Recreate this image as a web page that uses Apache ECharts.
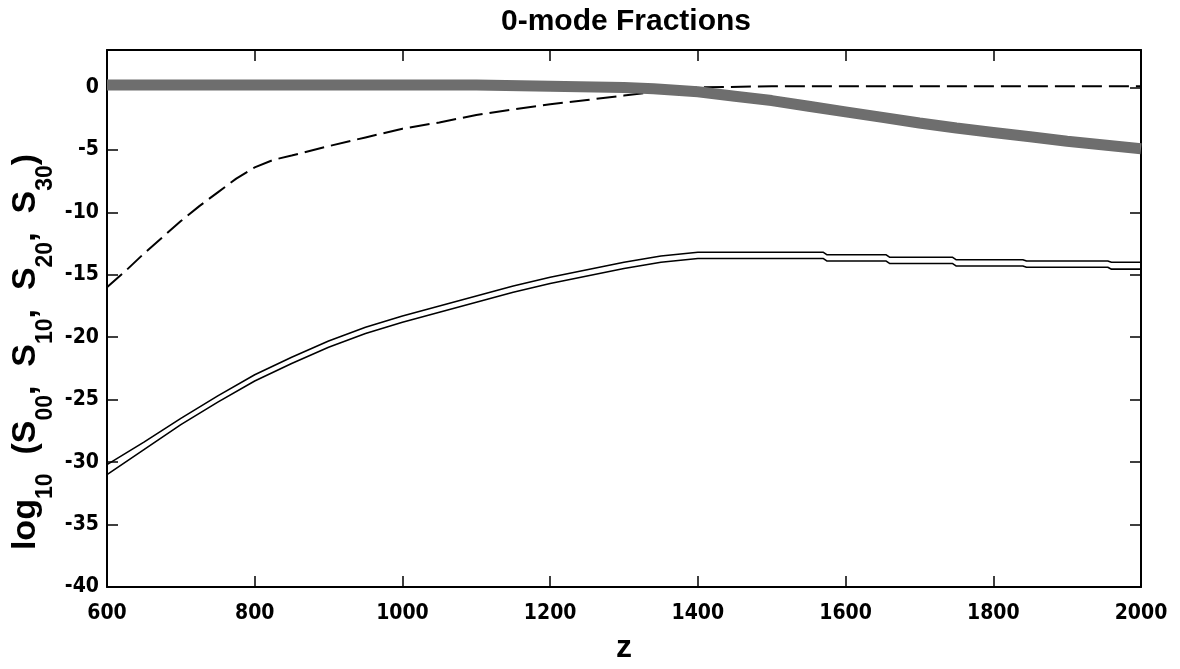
<!DOCTYPE html>
<html>
<head>
<meta charset="utf-8">
<script src="https://cdn.jsdelivr.net/npm/echarts@6/dist/echarts.min.js"></script>
<style>
html,body{margin:0;padding:0;background:#fff;}
#chart{width:1180px;height:669px;}
</style>
</head>
<body>
<div id="chart"></div>
<script>
// ---- data ----
const titleText = '0-mode Fractions';
const xName = 'z';

// thick grey band
const zBand    = [600, 700, 800, 900, 1000, 1100, 1200, 1300, 1340, 1400, 1450, 1500, 1550, 1600, 1650, 1700, 1750, 1800, 1850, 1900, 1950, 2000];
const bandVals = [0.2, 0.2, 0.2, 0.2, 0.2, 0.2, 0.1, 0.0, -0.1, -0.35, -0.7, -1.05, -1.5, -1.95, -2.4, -2.85, -3.25, -3.6, -3.95, -4.3, -4.6, -4.9];

// dashed curve
const zDash    = [600, 625, 650, 675, 700, 725, 750, 775, 800, 825, 850, 900, 950, 1000, 1050, 1100, 1150, 1200, 1250, 1300, 1350, 1400, 1500, 1600, 1700, 1800, 1900, 2000];
const dashVals = [-16.0, -14.7, -13.3, -12.0, -10.7, -9.5, -8.4, -7.3, -6.4, -5.8, -5.45, -4.7, -4.0, -3.3, -2.8, -2.2, -1.75, -1.35, -1.0, -0.65, -0.3, 0.0, 0.1, 0.1, 0.1, 0.1, 0.1, 0.1];

// pair of solid curves
const zPair     = [600, 650, 700, 750, 800, 850, 900, 950, 1000, 1050, 1100, 1150, 1200, 1250, 1300, 1350, 1400, 1570, 1575, 1655, 1660, 1745, 1750, 1840, 1845, 1955, 1960, 2000];
const upperVals = [-30.2, -28.4, -26.5, -24.7, -23.0, -21.6, -20.3, -19.2, -18.3, -17.5, -16.7, -15.9, -15.2, -14.6, -14.0, -13.5, -13.2, -13.2, -13.4, -13.4, -13.6, -13.6, -13.8, -13.8, -13.9, -13.9, -14.0, -14.0];
const lowerVals = [-31.0, -29.0, -27.0, -25.2, -23.5, -22.1, -20.8, -19.7, -18.8, -18.0, -17.2, -16.4, -15.7, -15.1, -14.5, -14.0, -13.7, -13.7, -13.9, -13.9, -14.1, -14.1, -14.3, -14.3, -14.4, -14.4, -14.55, -14.55];

const xMin = 600, xMax = 2000, xStep = 200;
const yMin = -40, yMax = 3, yStep = 5;

// ---- build ----
const pairs = (xs, ys) => xs.map((x, i) => [x, ys[i]]);
const tickFont = "'Liberation Sans Narrow','Arial Narrow','DejaVu Sans Condensed',sans-serif";
const mainFont = "'Liberation Sans',Arial,Helvetica,sans-serif";

const chart = echarts.init(document.getElementById('chart'), null, {renderer: 'canvas'});

const axisCommon = {
  axisLine: {show: true, onZero: false, lineStyle: {color: '#000', width: 2}},
  axisTick: {show: true, inside: true, length: 11, lineStyle: {color: '#000', width: 1.5}},
  splitLine: {show: false}
};

const option = {
  animation: false,
  backgroundColor: '#fff',
  title: {
    text: titleText,
    left: 621,
    textAlign: 'center',
    top: 2,
    textStyle: {fontFamily: mainFont, fontWeight: 'bold', fontSize: 30, color: '#000'}
  },
  grid: {left: 107, right: 39, top: 50, bottom: 77, containLabel: false},
  xAxis: [
    Object.assign({
      type: 'value', min: xMin, max: xMax, interval: xStep, position: 'bottom',
      name: xName, nameLocation: 'middle', nameGap: 45,
      nameTextStyle: {fontFamily: mainFont, fontWeight: 'bold', fontSize: 32, color: '#000'},
      axisLabel: {margin: 16, color: '#000', fontFamily: tickFont, fontWeight: 'bold', fontSize: 21,
        formatter: v => String(v)}
    }, axisCommon),
    Object.assign({
      type: 'value', min: xMin, max: xMax, interval: xStep, position: 'top',
      axisLabel: {show: false}
    }, axisCommon)
  ],
  yAxis: [
    Object.assign({
      type: 'value', min: yMin, max: yMax, interval: yStep, position: 'left',
      axisLabel: {margin: 8, color: '#000', fontFamily: tickFont, fontWeight: 'bold', fontSize: 21,
        showMaxLabel: false,
        formatter: v => (v % yStep === 0 ? String(v) : '')}
    }, axisCommon),
    Object.assign({
      type: 'value', min: yMin, max: yMax, interval: yStep, position: 'right',
      axisLabel: {show: false}
    }, axisCommon)
  ],
  graphic: [{
    type: 'text',
    x: 26, y: 352,
    rotation: Math.PI / 2,
    style: {
      text: '{m|log}{s|10}{m|  (S}{s|00}{m|,  S}{s|10}{m|,  S}{s|20}{m|,  S}{s|30}{m|)}',
      align: 'center',
      verticalAlign: 'middle',
      fill: '#000',
      rich: {
        m: {fontFamily: mainFont, fontWeight: 'bold', fontSize: 34, lineHeight: 63, fill: '#000', color: '#000'},
        s: {fontFamily: mainFont, fontWeight: 'bold', fontSize: 23, verticalAlign: 'bottom', fill: '#000', color: '#000'}
      }
    }
  }],
  series: [
    {
      type: 'line', xAxisIndex: 0, yAxisIndex: 0, showSymbol: false, silent: true,
      data: pairs(zDash, dashVals),
      lineStyle: {color: '#000', width: 2, type: [20, 7]}
    },
    {
      type: 'line', xAxisIndex: 0, yAxisIndex: 0, showSymbol: false, silent: true,
      data: pairs(zPair, upperVals),
      lineStyle: {color: '#000', width: 1.6}
    },
    {
      type: 'line', xAxisIndex: 0, yAxisIndex: 0, showSymbol: false, silent: true,
      data: pairs(zPair, lowerVals),
      lineStyle: {color: '#000', width: 1.6}
    },
    {
      type: 'line', xAxisIndex: 0, yAxisIndex: 0, showSymbol: false, silent: true,
      data: pairs(zBand, bandVals),
      lineStyle: {color: '#6e6e6e', width: 11}
    }
  ]
};
chart.setOption(option);
</script>
</body>
</html>
